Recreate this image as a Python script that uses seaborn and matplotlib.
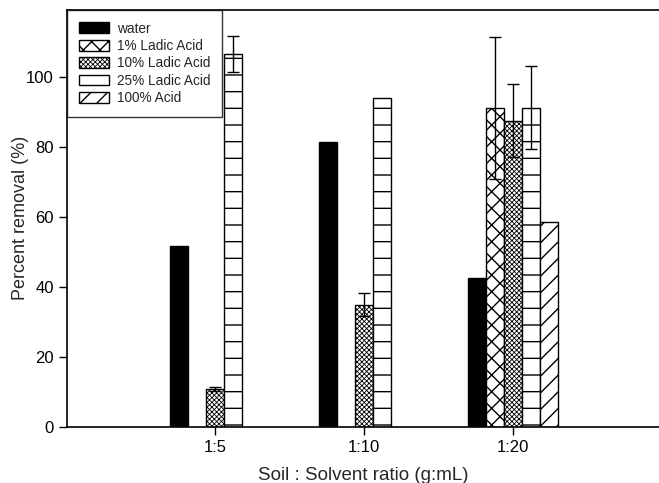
import numpy as np
import pandas as pd
import matplotlib
matplotlib.use("Agg")
import matplotlib.pyplot as plt
import seaborn as sns
from matplotlib.patches import Patch

# ---- data ----
ratios = ["1:5", "1:10", "1:20"]
treatments = ["water", "1% Ladic Acid", "10% Ladic Acid", "25% Ladic Acid", "100% Acid"]
water = [51.6, 81.3, 42.4]
lactic1 = [np.nan, np.nan, 91.1]
lactic10 = [10.8, 34.8, 87.4]
lactic25 = [106.4, 93.8, 91.1]
acid100 = [np.nan, np.nan, 58.6]
err_water = [np.nan, np.nan, np.nan]
err_lactic1 = [np.nan, np.nan, 20.3]
err_lactic10 = [0.6, 3.3, 10.4]
err_lactic25 = [5.2, np.nan, 11.9]
err_acid100 = [np.nan, np.nan, np.nan]
y_ticks = [0, 20, 40, 60, 80, 100]

values = [water, lactic1, lactic10, lactic25, acid100]
errors = [err_water, err_lactic1, err_lactic10, err_lactic25, err_acid100]
hatches = ["", "xx", "xxxxxxx", "-", "//"]
hatch_lw = [1.0, 1.0, 0.6, 1.0, 1.0]
faces = ["black", "white", "white", "white", "white"]

rows = []
for t, vals in zip(treatments, values):
    for r, v in zip(ratios, vals):
        rows.append({"ratio": r, "treatment": t, "value": v})
df = pd.DataFrame(rows)

sns.set_style("white")
plt.rcParams["font.family"] = ["Liberation Sans", "DejaVu Sans"]
plt.rcParams["hatch.linewidth"] = 1.0
plt.rcParams["hatch.color"] = "black"


def set_hlw(p, lw):
    if hasattr(p, "set_hatch_linewidth"):
        p.set_hatch_linewidth(lw)
    else:
        p._hatch_linewidth = lw


fig = plt.figure(figsize=(6.59, 4.83), dpi=100)
ax = fig.add_axes([67 / 659, (483 - 426.7) / 483, 1 - 67 / 659, (426.7 - 10) / 483])

width_total = 0.6
n = len(treatments)
bw = width_total / n
sns.barplot(data=df, x="ratio", y="value", hue="treatment", order=ratios,
            hue_order=treatments, palette=faces, width=width_total, gap=0,
            errorbar=None, edgecolor="black", linewidth=1.0, ax=ax, legend=False,
            dodge=True, saturation=1)

# style each bar according to its dodge slot
for bar in ax.patches:
    xc = bar.get_x() + bar.get_width() / 2
    j = int(round((xc - round(xc)) / bw + (n - 1) / 2))
    j = min(max(j, 0), n - 1)
    bar.set_hatch(hatches[j])
    set_hlw(bar, hatch_lw[j])
    bar.set_facecolor(faces[j])
    bar.set_edgecolor("black")

# error bars, positioned on the dodged bar slots
for j, (vals, errs) in enumerate(zip(values, errors)):
    xs = np.arange(len(ratios)) + (j - (n - 1) / 2) * bw
    v = np.array(vals, dtype=float)
    e = np.array(errs, dtype=float)
    m = ~np.isnan(e) & ~np.isnan(v)
    if m.any():
        ax.errorbar(xs[m], v[m], yerr=e[m], fmt="none", ecolor="black",
                    elinewidth=1.0, capsize=4.5, capthick=1.0, zorder=5)

ax.set_xlim(-0.993, 2.98)
ax.set_ylim(0, 119)
ax.set_yticks(y_ticks)
ax.tick_params(axis="both", direction="out", length=6, width=1.0, labelsize=12,
               left=True, bottom=True, colors="black")
ax.set_ylabel("Percent removal (%)", fontsize=13, labelpad=-2)
ax.set_xlabel("Soil : Solvent ratio (g:mL)", fontsize=13.5, labelpad=9)
for s in ["left", "bottom", "top"]:
    ax.spines[s].set_color("black")
    ax.spines[s].set_linewidth(1.2)
ax.spines["right"].set_visible(False)

handles = []
for t, f, h, hl in zip(treatments, faces, hatches, hatch_lw):
    p = Patch(facecolor=f, edgecolor="black", hatch=h, label=t, linewidth=1.0)
    handles.append(p)
leg = ax.legend(handles=handles, loc="upper left", borderaxespad=0, fontsize=9.8,
                frameon=True, fancybox=False, edgecolor="black", handlelength=2.2,
                handleheight=0.85, labelspacing=0.25, borderpad=0.85, handletextpad=0.6)
leg.get_frame().set_linewidth(1.0)
for lp, hl in zip(leg.get_patches(), hatch_lw):
    set_hlw(lp, hl)

fig.savefig("out.png", dpi=100)
